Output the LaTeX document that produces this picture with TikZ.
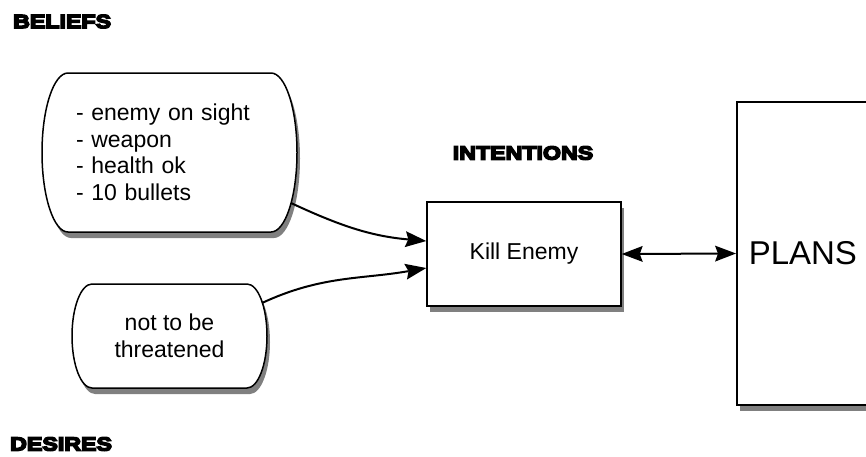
\documentclass[tikz,border=0pt]{standalone}
\usepackage{fontspec}
\setmainfont{Liberation Sans}
\newfontfamily\heavyfont[FakeStretch=1.22,FakeBold=8]{Liberation Sans Bold}
\usetikzlibrary{arrows.meta,shadows,backgrounds}

\begin{document}
\begin{tikzpicture}[x=1pt,y=-1pt,
  heading/.style={font=\heavyfont\fontsize{19}{22}\selectfont, inner sep=0pt},
  body/.style={font=\fontsize{23}{26.5}\selectfont},
  holder/.style={inner sep=0pt, outer sep=0pt},
  boxshade/.style={drop shadow={shadow xshift=3pt,shadow yshift=-6pt,fill=black!50,opacity=1}},
  outline/.style={draw=black, line width=1.5pt, fill=white, boxshade},
  squarebox/.style={draw=black, line width=1.5pt, fill=white, boxshade},
  headtip/.tip={Stealth[length=21pt,width=16pt,inset=3pt,line width=0pt]},
  link/.style={line width=2pt, -headtip},
  duallink/.style={line width=2pt, headtip-headtip},
]
\useasboundingbox (0,0) rectangle (866,456);

% section headings
\node[heading, anchor=west] (belLabel) at (13,21.5) {BELIEFS};
\node[heading] (intLabel) at (523,153) {INTENTIONS};
\node[heading, anchor=west] (desLabel) at (10,444) {DESIRES};

% belief and desire stores (outlines drawn behind)
\node[holder, body, text width=187pt, inner xsep=34pt, minimum height=159pt, align=left]
  (bel) at (169.5,152.5) {- enemy on sight\\- weapon\\- health ok\\- 10 bullets};
\node[holder, body, minimum width=195pt, minimum height=104pt, align=center]
  (des) at (169.5,336) {not to be\\threatened};

\begin{scope}[on background layer]
  \draw[outline] ([xshift=26pt]bel.north west) -- ([xshift=-26pt]bel.north east)
    arc[start angle=90,end angle=-90,x radius=26pt,y radius=79.5pt]
    -- ([xshift=26pt]bel.south west)
    arc[start angle=270,end angle=90,x radius=26pt,y radius=79.5pt] -- cycle;
  \draw[outline] ([xshift=20pt]des.north west) -- ([xshift=-20pt]des.north east)
    arc[start angle=90,end angle=-90,x radius=20pt,y radius=52pt]
    -- ([xshift=20pt]des.south west)
    arc[start angle=270,end angle=90,x radius=20pt,y radius=52pt] -- cycle;
\end{scope}

% intention and plan library
\node[squarebox, body, minimum width=194pt, minimum height=104pt]
  (kill) at (524,254) {Kill Enemy};
\node[squarebox, font=\fontsize{33}{36}\selectfont, minimum height=303pt,
  text width=140pt, inner xsep=12pt, align=left, anchor=west]
  (plans) at (736,253.5) {PLANS};

% connectors
\draw[link] ([xshift=-6pt,yshift=29pt]bel.south east) to[out=-25,in=175] ([yshift=13pt]kill.west);
\draw[link] ([xshift=-5pt,yshift=-19pt]des.north east) to[out=25,in=190] ([yshift=-14pt]kill.west);
\draw[duallink] (kill.east) -- (plans.west);
\end{tikzpicture}
\end{document}
